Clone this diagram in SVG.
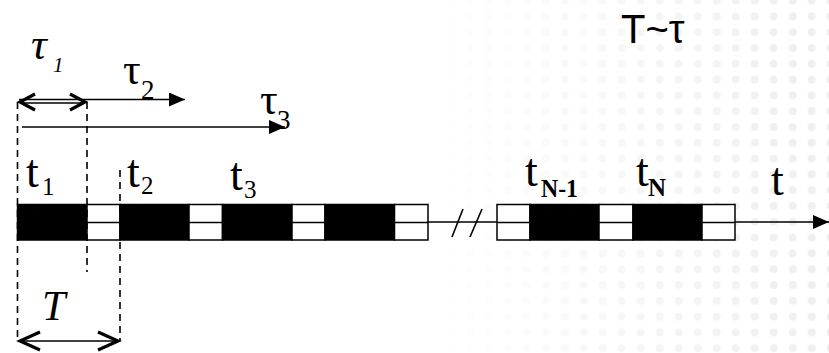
<svg xmlns="http://www.w3.org/2000/svg" width="829" height="353" viewBox="0 0 829 353">
<style>
.serif{font-family:"Liberation Serif","Times New Roman",serif;fill:#000}
.t{font-size:46px}
.sub{font-size:25px}
.subb{font-size:25px;font-weight:bold}
.tau{font-size:44px}
.sans{font-family:"Liberation Sans",Arial,sans-serif;font-size:40px;fill:#000}
.blk{fill:#000;stroke:#000;stroke-width:1.5}
.wht{fill:#fff;stroke:#000;stroke-width:1.5}
.dash{stroke:#000;stroke-width:1.6;stroke-dasharray:7 5;fill:none}
.ln{stroke:#000;stroke-width:1.6;fill:none}
.chev{stroke:#000;stroke-width:3.2;fill:none}
</style>
<defs>
<pattern id="dots" x="13.7" y="0.6" width="19" height="15.8" patternUnits="userSpaceOnUse">
<circle cx="0" cy="0" r="4" fill="#eeeeee"/>
<circle cx="19" cy="0" r="4" fill="#eeeeee"/>
<circle cx="0" cy="15.8" r="4" fill="#eeeeee"/>
<circle cx="19" cy="15.8" r="4" fill="#eeeeee"/>
</pattern>
<linearGradient id="fade" x1="0" y1="0" x2="1" y2="0">
<stop offset="0.52" stop-color="#fff" stop-opacity="0"/>
<stop offset="1" stop-color="#fff" stop-opacity="1"/>
</linearGradient>
<mask id="m" maskUnits="userSpaceOnUse" x="0" y="0" width="829" height="353">
<rect width="829" height="353" fill="url(#fade)"/>
</mask>
<marker id="fa" viewBox="0 0 16 14" refX="16" refY="7" markerWidth="16" markerHeight="14" markerUnits="userSpaceOnUse" orient="auto">
<path d="M0,0 L16,7 L0,14 Z" fill="#000"/>
</marker>
</defs>
<rect width="829" height="353" fill="#fff"/>
<rect width="829" height="353" fill="url(#dots)" mask="url(#m)"/>

<g id="axis">
<line class="ln" x1="17" y1="222" x2="829" y2="222" marker-end="url(#fa)"/>
<line class="ln" x1="452" y1="237" x2="463" y2="209"/>
<line class="ln" x1="470" y1="237" x2="482" y2="209"/>
</g>

<g id="bar">
<rect class="blk" x="17.5" y="204.5" width="69.5" height="35.5"/>
<rect class="wht" x="87" y="204.5" width="33" height="35.5"/>
<rect class="blk" x="120" y="204.5" width="69" height="35.5"/>
<rect class="wht" x="189" y="204.5" width="33.5" height="35.5"/>
<rect class="blk" x="222.5" y="204.5" width="69.5" height="35.5"/>
<rect class="wht" x="292" y="204.5" width="33" height="35.5"/>
<rect class="blk" x="325" y="204.5" width="69.5" height="35.5"/>
<rect class="wht" x="394.5" y="204.5" width="33.5" height="35.5"/>
<rect class="wht" x="497" y="204.5" width="33" height="35.5"/>
<rect class="blk" x="530" y="204.5" width="69" height="35.5"/>
<rect class="wht" x="599" y="204.5" width="34" height="35.5"/>
<rect class="blk" x="633" y="204.5" width="69" height="35.5"/>
<rect class="wht" x="702" y="204.5" width="33" height="35.5"/>
<line class="ln" x1="87" y1="222.5" x2="120" y2="222.5"/>
<line class="ln" x1="189" y1="222.5" x2="222.5" y2="222.5"/>
<line class="ln" x1="292" y1="222.5" x2="325" y2="222.5"/>
<line class="ln" x1="394.5" y1="222.5" x2="428" y2="222.5"/>
<line class="ln" x1="497" y1="222.5" x2="530" y2="222.5"/>
<line class="ln" x1="599" y1="222.5" x2="633" y2="222.5"/>
<line class="ln" x1="702" y1="222.5" x2="735" y2="222.5"/>
</g>

<g id="connectors">
<line class="dash" x1="17.5" y1="102" x2="17.5" y2="341"/>
<line class="dash" x1="87" y1="102" x2="87" y2="272"/>
<line class="dash" x1="120" y1="170" x2="120" y2="341"/>
<line class="ln" x1="19" y1="99.5" x2="185" y2="99.5" marker-end="url(#fa)"/>
<line class="ln" x1="20" y1="103" x2="85" y2="103"/>
<polyline class="chev" points="35,94 20,102 35,110"/>
<polyline class="chev" points="70,94 85,102 70,110"/>
<line class="ln" x1="22" y1="127" x2="285" y2="127" marker-end="url(#fa)"/>
<line class="ln" x1="22" y1="341" x2="116" y2="341"/>
<polyline class="chev" points="40,332 20,341 40,350"/>
<polyline class="chev" points="98,332 118,341 98,350"/>
</g>

<g id="labels">
<text class="serif tau" x="31" y="59" font-style="italic">τ</text>
<text class="serif" x="53" y="72" font-size="21" font-style="italic">1</text>
<text class="serif tau" x="123" y="84">τ</text>
<text class="serif" x="141" y="99" font-size="27">2</text>
<text class="serif tau" x="260" y="114">τ</text>
<text class="serif" x="277" y="129" font-size="27">3</text>
<text class="serif t" x="26" y="187">t</text>
<text class="serif sub" x="42" y="195">1</text>
<text class="serif t" x="127" y="187">t</text>
<text class="serif sub" x="141" y="194">2</text>
<text class="serif t" x="230" y="190">t</text>
<text class="serif sub" x="244" y="198">3</text>
<text class="serif t" x="525" y="186">t</text>
<text class="serif subb" x="541" y="197" textLength="37" lengthAdjust="spacingAndGlyphs">N-1</text>
<text class="serif t" x="636" y="186">t</text>
<text class="serif subb" x="648" y="196">N</text>
<text class="serif t" x="771" y="195">t</text>
<text class="serif" x="42" y="320" font-size="42" font-style="italic">T</text>
<text class="sans" x="621" y="43">T~τ</text>
</g>
</svg>
